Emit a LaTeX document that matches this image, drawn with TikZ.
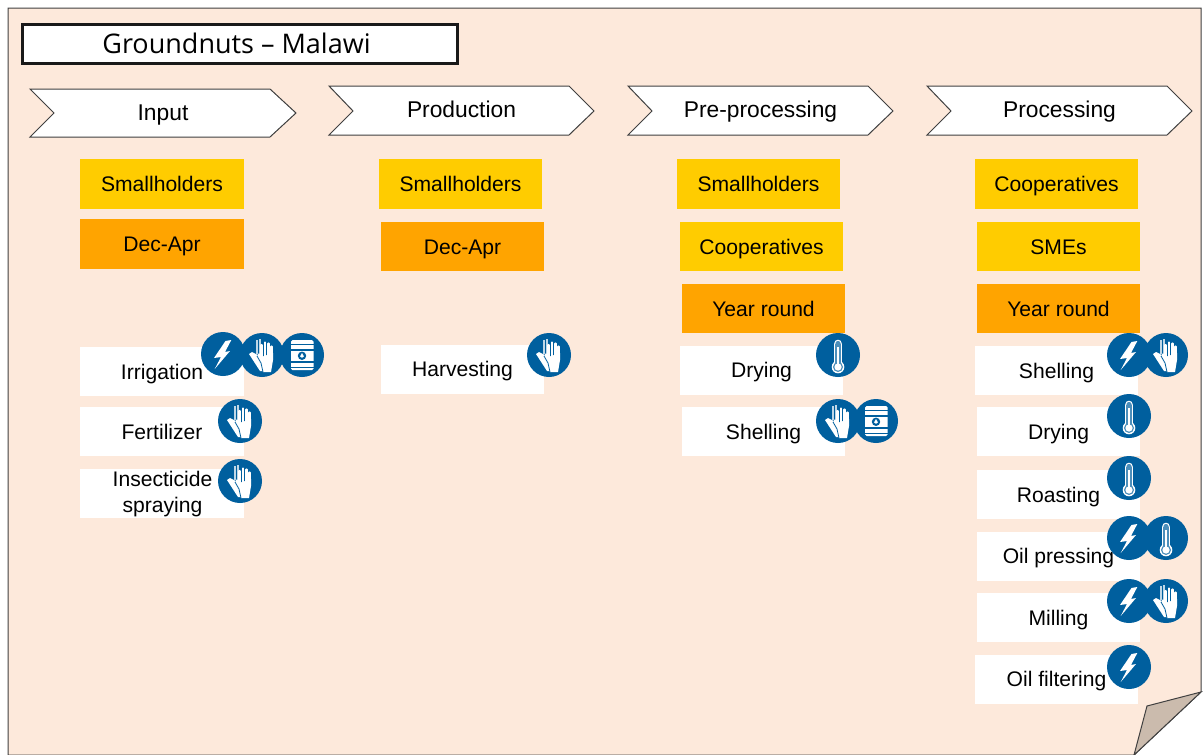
\documentclass[tikz,border=0pt]{standalone}
\usepackage{fontspec}
\setmainfont{Liberation Sans}
\newfontfamily\titlefont{Open Sans}
\definecolor{pagebg}{HTML}{FDE9DB}
\definecolor{foldbg}{HTML}{CBBBAD}
\definecolor{iconblue}{HTML}{005F9E}
\definecolor{actoryellow}{HTML}{FFCC00}
\definecolor{seasonorange}{HTML}{FFA400}
\definecolor{edgegray}{HTML}{404040}
\tikzset{
  lblbase/.style={font=\fontsize{21.1}{26}\selectfont,text=black,align=center,inner sep=0pt},
  lbl/.style={lblbase,text height=18pt,text depth=3pt},
  stagelbl/.style={lbl,font=\fontsize{22.8}{26}\selectfont},
  cardbox/.style={lbl,minimum width=163.5pt,minimum height=49pt},
  actor/.style={cardbox,fill=actoryellow},
  season/.style={cardbox,fill=seasonorange},
  activity/.style={cardbox,fill=white},
  chev/.style={draw=edgegray,fill=white,line width=1pt,line join=miter},
  bolt/.pic={\fill[iconblue] (0,0) circle (22);
    \fill[white] (2.5,-13) -- (8.3,-14) -- (2,-2) -- (7,-3) -- (-8.3,15) -- (-2,3) -- (-9,4) -- cycle;},
  hand/.pic={\fill[iconblue] (0,0) circle (22);
    % rear glove
    \fill[white!75!iconblue] (-6.5,-15) rectangle (-4.5,0);
    \fill[white!75!iconblue] (-3.5,-16) rectangle (-1.5,0);
    \fill[white] (-13,-1) -- (-10,-3) -- (-6,-1) -- (-2,-1) -- (0,5) -- (3,16) -- (-2,16) -- cycle;
    \draw[iconblue,line width=.8pt] (-5,-1) -- (-1,9) -- (3,16);
    % front glove
    \foreach \fx/\ft in {-0.5/-10,3/-12.5,6.5/-11.5,9.5/-8.5}{
      \draw[white,line width=2.4pt,line cap=round] (\fx,3) -- (\fx,\ft);}
    \fill[white] (-5,1) -- (-3,-2) -- (-1,2) -- (11,-2) -- (11,5) -- (9,17) -- (1,17) -- cycle;
    \draw[iconblue,line width=.8pt] (-5,1) -- (-1,8) -- (1,17);},
  barrel/.pic={\fill[iconblue] (0,0) circle (22);
    \fill[white,rounded corners=1.5pt] (-11,-15) rectangle (11.5,15);
    \draw[iconblue,line width=.9pt] (-11,-11) -- (11.5,-11);
    \draw[iconblue,line width=1.2pt] (-11,-5) -- (11.5,-5);
    \draw[iconblue,line width=1.2pt] (-11,7) -- (11.5,7);
    \draw[iconblue,line width=.9pt] (-11,12) -- (11.5,12);
    \fill[iconblue] (0,.8) circle (4.2);
    \fill[white] (0,-2) .. controls (.6,-.5) and (1.9,.6) .. (1.9,1.6) .. controls (1.9,3.1) and (-1.9,3.1) .. (-1.9,1.6) .. controls (-1.9,.6) and (-.6,-.5) .. (0,-2) -- cycle;},
  thermo/.pic={\fill[iconblue] (0,0) circle (22);
    \fill[white] (-3.8,-11.5) rectangle (3.8,8);
    \fill[white] (0,-11.5) circle (3.8);
    \fill[white] (0,12) circle (6.3);
    \fill[iconblue!70!white] (-2.6,-11.5) rectangle (2.6,8);
    \fill[iconblue!70!white] (0,-11.5) circle (2.6);
    \fill[iconblue!70!white] (0,12) circle (5);
    \fill[white] (0,12) circle (3.6);
    \fill[white] (-1.1,-8) rectangle (1.1,10);}
}
\begin{document}
\begin{tikzpicture}[x=1pt,y=-1pt]
\useasboundingbox (0,0) rectangle (1203,755);
% folded page
\draw[edgegray,fill=pagebg,line width=1pt] (8,8) -- (1201,8) -- (1201,692) -- (1134,755) -- (8,755) -- cycle;
\draw[edgegray,fill=foldbg,line width=1pt] (1201,692) -- (1147,706) -- (1134,755) -- cycle;
% title
\node[draw=black!90,line width=2.2pt,fill=white,minimum width=435pt,minimum height=39pt,inner sep=0pt] (title) at (240,44) {};
\node[font=\fontsize{27}{30}\selectfont\titlefont,inner sep=0pt,text=black,text height=20pt,text depth=0pt] (titletext) at (236.5,43) {Groundnuts – Malawi};
% chevrons
\draw[chev] (30,89) -- (270,89) -- (296,113) -- (270,137) -- (30,137) -- (54,113) -- cycle;
\draw[chev] (329,86) -- (569,86) -- (594,111) -- (569,135) -- (329,135) -- (353,111) -- cycle;
\draw[chev] (628,86) -- (868,86) -- (893,111) -- (868,135) -- (628,135) -- (652,111) -- cycle;
\draw[chev] (927,86) -- (1167,86) -- (1192,111) -- (1167,135) -- (927,135) -- (951,111) -- cycle;
\node[stagelbl] (input) at (163,113) {Input};
\node[stagelbl] (production) at (461.5,110) {Production};
\node[stagelbl] (preprocessing) at (760.5,110) {Pre-processing};
\node[stagelbl] (processing) at (1059.5,110) {Processing};
% Input column
\node[actor,minimum height=50pt] (a1) at (162,184) {Smallholders};
\node[season,minimum height=50pt] (a2) at (162,244) {Dec-Apr};
\node[activity] (a3) at (162,371.5) {Irrigation};
\node[activity] (a4) at (162,431.5) {Fertilizer};
\node[fill=white,minimum width=163.5pt,minimum height=49pt] (a5) at (162,493.5) {};
\node[lblbase] (a5t) at (162.5,494) {Insecticide\\spraying};
% Production column
\node[actor,minimum height=50pt] (b1) at (460.5,184) {Smallholders};
\node[season] (b2) at (462.5,246.5) {Dec-Apr};
\node[activity] (b3) at (462.5,369) {Harvesting};
% Pre-processing column
\node[actor,minimum height=50pt] (c1) at (758.5,184) {Smallholders};
\node[actor] (c2) at (761.5,246.5) {Cooperatives};
\node[season] (c3) at (763.5,308.5) {Year round};
\node[activity] (c4) at (761.5,370) {Drying};
\node[activity] (c5) at (763.5,431.5) {Shelling};
% Processing column
\node[actor,minimum height=50pt] (d1) at (1056.5,184) {Cooperatives};
\node[actor] (d2) at (1058.5,246.5) {SMEs};
\node[season] (d3) at (1058.5,308.5) {Year round};
\node[activity] (d4) at (1056.5,370.5) {Shelling};
\node[activity] (d5) at (1058.5,431.5) {Drying};
\node[activity] (d6) at (1058.5,494.5) {Roasting};
\node[activity] (d7) at (1058.5,556) {Oil pressing};
\node[activity] (d8) at (1058.5,617.5) {Milling};
\node[activity] (d9) at (1056.5,679) {Oil filtering};
% icons
\pic at (223,354) {bolt};
\pic at (262,355) {hand};
\pic at (302,355) {barrel};
\pic at (240,421) {hand};
\pic at (240,481) {hand};
\pic at (549,355) {hand};
\pic at (838,355) {thermo};
\pic at (876,421) {barrel};
\pic at (838,421) {hand};
\pic at (1129,355) {bolt};
\pic at (1166,355) {hand};
\pic at (1129,416) {thermo};
\pic at (1129,478) {thermo};
\pic at (1129,538) {bolt};
\pic at (1166,538) {thermo};
\pic at (1129,601) {bolt};
\pic at (1166,601) {hand};
\pic at (1129,667) {bolt};
\end{tikzpicture}
\end{document}
